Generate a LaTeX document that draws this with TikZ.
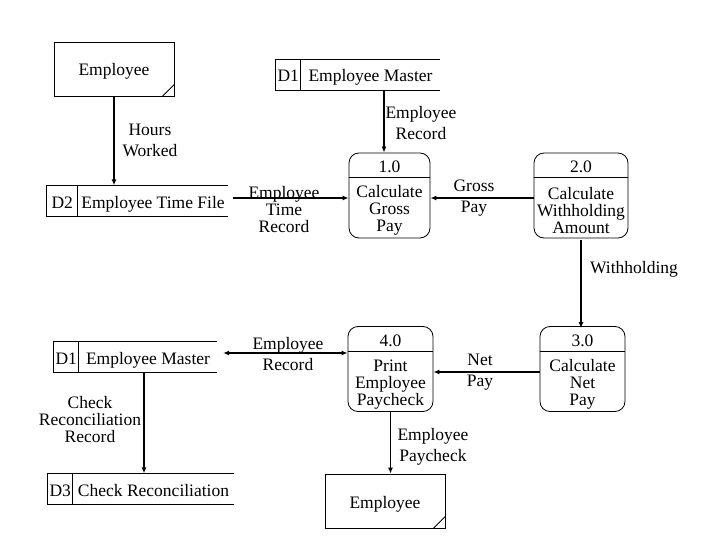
\documentclass[tikz,border=0pt]{standalone}
\usepackage{fontspec}
\setmainfont{Liberation Serif}
\usetikzlibrary{arrows.meta,calc}

\begin{document}
\begin{tikzpicture}[x=1pt, y=-1pt,
        every node/.style={font=\fontsize{17.5}{21}\selectfont, inner sep=0pt},
        tight/.style={align=center, font=\fontsize{17.5}{17}\selectfont},
        loose/.style={align=center},
        storetext/.style={text height=12pt, text depth=4pt},
        entity/.style={draw, line width=0.8pt, minimum width=120pt, minimum height=54pt},
        store/.style={minimum height=31pt},
        process/.style={draw, line width=0.8pt, rounded corners=10pt, minimum height=85pt},
        flow/.style={line width=1.6pt, -{Latex[length=6pt,width=5pt]}},
        flows/.style={line width=1.6pt, {Latex[length=6pt,width=5pt]}-{Latex[length=6pt,width=5pt]}}]
        \useasboundingbox (0,0) rectangle (720,540);
        \node[entity] (e1) at (114,69) {};
        \node[entity] (e2) at (385,501) {};
        \foreach \e in {e1,e2}{
            \node[storetext] (\e-txt) at ([yshift=-3pt]\e.center) {Employee};
            \draw[line width=0.8pt] ([xshift=-12pt]\e.south east) -- ([yshift=12pt]\e.south east);
        };
        \foreach \s/\id/\pos/\w/\dx/\txt in {
            d1a/D1/{358,75}/164/25/Employee Master,
            d2/D2/{137.5,201}/181/31/Employee Time File,
            d1b/D1/{135.5,357}/163/25/Employee Master,
            d3/D3/{141,489}/186/25/Check Reconciliation}{
            \node[store, minimum width=\w pt] (\s) at (\pos) {};
            \draw[line width=0.8pt] (\s.north east) -- (\s.north west) -- (\s.south west) -- (\s.south east)
                ([xshift=\dx pt]\s.north west) -- ([xshift=\dx pt]\s.south west);
            \node[storetext] (\s-id) at ([xshift={\dx*0.5pt}, yshift=-3pt]\s.west) {\id};
            \node[storetext] (\s-txt) at ($([xshift=\dx pt, yshift=-3pt]\s.west)!0.5!([yshift=-3pt]\s.east)$) {\txt};
        };
        \foreach \p/\num/\pos/\w/\txt in {
            p1/1.0/{389.5,195.5}/81/{Calculate\\Gross\\Pay},
            p2/2.0/{581,195.5}/94/{Calculate\\Withholding\\Amount},
            p3/3.0/{582.5,369}/85/{Calculate\\Net\\Pay},
            p4/4.0/{390.5,369}/85/{Print\\Employee\\Paycheck}}{
            \node[process, minimum width=\w pt] (\p) at (\pos) {};
            \draw[line width=0.8pt] ([yshift=-25pt]\p.north west) -- ([yshift=-25pt]\p.north east);
            \node (\p-num) at ([yshift=-14.5pt]\p.north) {\num};
            \node[tight] (\p-txt) at ([yshift=-58pt]\p.north) {\txt};
        };
        \coordinate (t1) at ([xshift=5pt,yshift=3pt]d2.east);
        \coordinate (r1) at ([xshift=6pt,yshift=4pt]d1b.east);
        \draw[flow] (e1.south) -- (e1.south |- d2.north);
        \draw[flow] ([xshift=-5.5pt]p1.north |- d1a.south) -- ([xshift=-5.5pt]p1.north);
        \draw[flow] (t1) -- (t1 -| p1.west);
        \draw[flow] ([yshift=-2.5pt]p2.west) -- ([yshift=-2.5pt]p1.east);
        \draw[flow] ([yshift=-2pt]p2.south) -- ([yshift=-2pt]p2.south |- p3.north);
        \draw[flow] ([yshift=-3pt]p3.west) -- ([yshift=-3pt]p4.east);
        \draw[flows] (r1) -- (r1 -| p4.west);
        \draw[flow] (p4.south) -- (p4.south |- e2.north);
        \draw[flow] ([xshift=8.5pt]d1b.south) -- ([xshift=8.5pt]d1b.south |- d3.north);
        \node[loose] (l-hours) at (150,140) {Hours\\Worked};
        \node[loose] (l-rec1) at (421,123) {Employee\\Record};
        \node[tight] (l-time) at (284,210) {Employee\\Time\\Record};
        \node[loose] (l-gross) at (474,198) {Gross\\Pay};
        \node (l-with) at (634,269) {Withholding};
        \node[loose] (l-net) at (480,372) {Net\\Pay};
        \node[loose] (l-rec2) at (288,354) {Employee\\Record};
        \node[tight] (l-check) at (90,420) {Check\\Reconciliation\\Record};
        \node[loose] (l-pay) at (433,447) {Employee\\Paycheck};
    \end{tikzpicture}
\end{document}
